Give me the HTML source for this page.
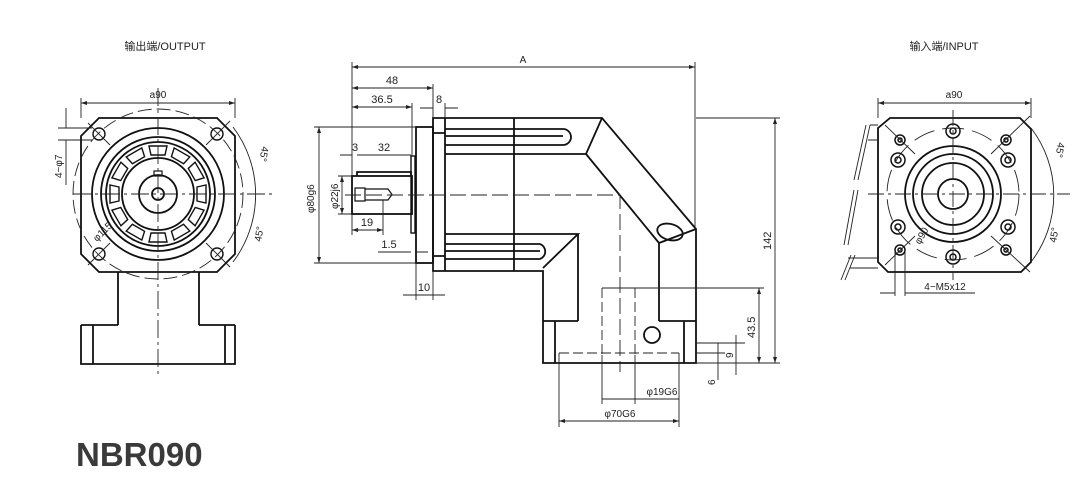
<!DOCTYPE html>
<html><head><meta charset="utf-8"><style>
html,body{margin:0;padding:0;background:#fff}
svg{display:block}
text{font-family:"Liberation Sans","Noto Sans CJK SC",sans-serif;fill:#222}
</style></head><body>
<svg width="1086" height="485" viewBox="0 0 1086 485" xmlns="http://www.w3.org/2000/svg">
<defs>
<marker id="ar" markerWidth="6" markerHeight="6" refX="6" refY="3" orient="auto-start-reverse" markerUnits="userSpaceOnUse"><path d="M0,1 L6,3 L0,5z" fill="#222"/></marker>
</defs>
<g fill="none" stroke="#111" stroke-width="1.8">
<!-- LEFT VIEW -->
<path d="M99,118 L217,118 L235,136 L235,254 L217,272 L99,272 L81,254 L81,136 Z"/>
<circle cx="158" cy="194" r="66"/>
<circle cx="158" cy="194" r="57"/>
<circle cx="158" cy="194" r="52"/>
<circle cx="158" cy="194" r="36"/>
<circle cx="158" cy="194" r="19"/>
<circle cx="158" cy="194" r="6"/>
<rect x="154" y="171" width="8" height="5" stroke-width="1.2"/>
<g stroke-width="1.4">
<circle cx="99" cy="134" r="6"/><circle cx="217" cy="134" r="6"/>
<circle cx="99" cy="254" r="6"/><circle cx="217" cy="254" r="6"/>
</g>
<path d="M118,272 V325 M199,272 V325 M81,325 H118 M199,325 H235 M81,325 V364 H235 V325 M93,325 V364 M225,325 V364"/>
</g>
<g fill="none" stroke="#111" stroke-width="1.4">
<g transform="translate(158,194)">
<path id="pk" d="M-9,-48 L9,-48 L7,-39 L-7,-39 Z"/>
<use href="#pk" transform="rotate(30)"/>
<use href="#pk" transform="rotate(60)"/>
<use href="#pk" transform="rotate(90)"/>
<use href="#pk" transform="rotate(120)"/>
<use href="#pk" transform="rotate(150)"/>
<use href="#pk" transform="rotate(180)"/>
<use href="#pk" transform="rotate(210)"/>
<use href="#pk" transform="rotate(240)"/>
<use href="#pk" transform="rotate(270)"/>
<use href="#pk" transform="rotate(300)"/>
<use href="#pk" transform="rotate(330)"/>
</g>
</g>
<g fill="none" stroke="#222" stroke-width="0.9">
<circle cx="158" cy="194" r="85" stroke-dasharray="14,5"/>
<path d="M158,88 V376 M73,194 H273" stroke-dasharray="18,4,3,4"/>
<path d="M88,123 L110,145 M206,145 L230,121 M88,265 L110,243 M206,243 L230,267"/>
<path d="M81,98 V118 M235,98 V118"/>
<path d="M81,103 H235" marker-start="url(#ar)" marker-end="url(#ar)"/>
<path d="M58,128 H92 M58,140 H92 M66,108 V128 M66,140 V185"/>
<path d="M233,127 A112,112 0 0 1 233,262"/>
</g>
<text x="158" y="98" font-size="10" text-anchor="middle">a90</text>
<text x="0" y="0" font-size="10" transform="translate(62,178) rotate(-90)">4−φ7</text>
<text x="0" y="0" font-size="10" transform="translate(97,242) rotate(-45)">φ115</text>
<text x="0" y="0" font-size="10" transform="translate(262,146) rotate(100)">45°</text>
<text x="0" y="0" font-size="10" transform="translate(261,242) rotate(-80)">45°</text>
<text x="165" y="50" font-size="11" text-anchor="middle" font-family="Liberation Mono,'Noto Sans CJK SC',monospace">输出端/OUTPUT</text>

<!-- MIDDLE VIEW -->
<g fill="none" stroke="#111" stroke-width="1.8">
<rect x="416" y="127" width="17" height="136"/>
<path d="M433,118 H602 L696,229 V363 H543 V271 H433 Z"/>
<path d="M445,118 V271 M433,133 H445 M433,256 H445"/>
<path d="M445,154 H586 L602,118 M586,154 L659,243 L696,229 M659,243 V321"/>
<path d="M445,129 H563 M445,136 H563 M445,145 H563"/>
<path d="M563,129 A8,8 0 0 1 563,145" />
<path d="M445,234 H578 L543,268 M578,234 V321 M543,321 H578 M659,321 H696 M555,321 V363 M684,321 V363"/>
<path d="M445,244 H540 M445,251 H540 M445,259 H540 M540,244 A8,8 0 0 1 540,259"/>
<path d="M514,118 V271"/>
<ellipse cx="670" cy="232" rx="13" ry="8" transform="rotate(15 670 232)"/>
<circle cx="652" cy="335" r="8"/>
<rect x="352" y="176" width="60" height="38"/>
<path d="M357,176 V172 H411 V176"/>
<rect x="411" y="156" width="4" height="77" stroke-width="1.4"/>
<path d="M355,188 H365 V201 H355 Z M365,189 H388 L392,194.5 L388,200 H365" stroke-width="1.2"/>
</g>
<g fill="none" stroke="#222" stroke-width="0.9">
<path d="M345,195 H620 V372" stroke-dasharray="16,5"/>
<path d="M602,288 V355 M635,288 V355 M559,353 H679" stroke-dasharray="10,4"/>
<path d="M602,288 H764 M696,363 H780 M696,118 H780"/>
<path d="M352,62 V176 M695,62 V229 M433,84 V118 M412,103 V156 M445,103 V118"/>
<path d="M352,67 H695" marker-start="url(#ar)" marker-end="url(#ar)"/>
<path d="M352,88 H433" marker-start="url(#ar)" marker-end="url(#ar)"/>
<path d="M352,107 H412" marker-start="url(#ar)" marker-end="url(#ar)"/>
<path d="M420,108 H433 M445,108 H458" />
<path d="M340,155 H352 M357,155 H411" />
<path d="M314,127 H416 M314,263 H416"/>
<path d="M319,127 V263" marker-start="url(#ar)" marker-end="url(#ar)"/>
<path d="M338,176 H352 M338,214 H352"/>
<path d="M342,176 V214" marker-start="url(#ar)" marker-end="url(#ar)"/>
<path d="M352,214 V235 M383,200 V235"/>
<path d="M352,230 H383" marker-start="url(#ar)" marker-end="url(#ar)"/>
<path d="M378,252 H411 M415,252 H428"/>
<path d="M416,263 V300 M433,263 V300 M403,295 H445"/>
<path d="M775,118 V363" marker-start="url(#ar)" marker-end="url(#ar)"/>
<path d="M759,288 V363" marker-start="url(#ar)" marker-end="url(#ar)"/>
<path d="M696,343 H745 M696,353 H725 M736,335 V375 M718,343 V380"/>
<path d="M602,355 V404 M635,355 V404 M559,353 V427 M679,353 V427"/>
<path d="M602,399 H679"/>
<path d="M559,421 H679" marker-start="url(#ar)" marker-end="url(#ar)"/>
</g>
<g font-size="10">
<text x="523" y="63" text-anchor="middle">A</text>
<text x="392" y="84" text-anchor="middle" font-size="11">48</text>
<text x="382" y="103" text-anchor="middle" font-size="11">36.5</text>
<text x="439" y="103" text-anchor="middle" font-size="11">8</text>
<text x="355" y="151" text-anchor="middle" font-size="11">3</text>
<text x="384" y="151" text-anchor="middle" font-size="11">32</text>
<text x="367" y="226" text-anchor="middle" font-size="11">19</text>
<text x="389" y="248" text-anchor="middle" font-size="11">1.5</text>
<text x="424" y="291" text-anchor="middle" font-size="11">10</text>
<text transform="translate(314,213) rotate(-90)">φ80g6</text>
<text transform="translate(338,209) rotate(-90)">φ22j6</text>
<text transform="translate(771,250) rotate(-90)" font-size="11">142</text>
<text transform="translate(755,338) rotate(-90)" font-size="11">43.5</text>
<text transform="translate(733,358) rotate(-90)">9</text>
<text transform="translate(715,385) rotate(-90)">6</text>
<text x="662" y="395" text-anchor="middle">φ19G6</text>
<text x="620" y="417" text-anchor="middle">φ70G6</text>
</g>

<!-- RIGHT VIEW -->
<g fill="none" stroke="#111" stroke-width="1.8">
<path d="M890,118 L1020,118 L1031,129 L1031,262 L1021,272 L888,272 L878,262 L878,128 Z"/>
<circle cx="953" cy="194" r="48"/>
<circle cx="953" cy="194" r="40"/>
<circle cx="953" cy="194" r="31"/>
<circle cx="953" cy="194" r="15"/>
<g stroke-width="1.5">
<circle cx="953" cy="131" r="7"/><circle cx="953" cy="131" r="3"/>
<circle cx="953" cy="257" r="7"/><circle cx="953" cy="257" r="3"/>
<circle cx="898" cy="160" r="7"/><circle cx="898" cy="160" r="3"/>
<circle cx="1008" cy="160" r="7"/><circle cx="1008" cy="160" r="3"/>
<circle cx="898" cy="227" r="7"/><circle cx="898" cy="227" r="3"/>
<circle cx="1008" cy="227" r="7"/><circle cx="1008" cy="227" r="3"/>
<circle cx="900" cy="140" r="5"/><circle cx="900" cy="140" r="2"/>
<circle cx="1006" cy="140" r="5"/><circle cx="1006" cy="140" r="2"/>
<circle cx="900" cy="250" r="5"/><circle cx="900" cy="250" r="2"/>
<circle cx="1006" cy="250" r="5"/><circle cx="1006" cy="250" r="2"/>
</g>
</g>
<g fill="none" stroke="#222" stroke-width="0.9">
<circle cx="953" cy="194" r="66" stroke-dasharray="22,8"/>
<path d="M953,110 V280 M868,194 H1070" stroke-dasharray="16,4,3,4"/>
<path d="M885,125 L915,154 M991,154 L1030,116 M885,265 L915,236 M991,236 L1030,272"/>
<path d="M878,98 V118 M1031,98 V118"/>
<path d="M878,103 H1031" marker-start="url(#ar)" marker-end="url(#ar)"/>
<path d="M1031,128 A110,110 0 0 1 1031,262"/>
<path d="M895,250 V296 M905,250 V296 M880,293 H895 M905,293 H975"/>
<path d="M870,125 L858,180 M866,125 L854,180 M858,190 L848,245 M854,190 L844,245 M855,255 L845,280 M851,255 L841,280"/>
<path d="M870,125 H878 M868,140 H878 M848,258 H878 M850,268 H878"/>
</g>
<g font-size="10">
<text x="954" y="98" text-anchor="middle">a90</text>
<text x="945" y="290" text-anchor="middle">4−M5x12</text>
<text transform="translate(920,245) rotate(-60)">φ90</text>
<text transform="translate(1058,142) rotate(100)">45°</text>
<text transform="translate(1056,243) rotate(-80)">45°</text>
</g>
<text x="944" y="50" font-size="11" text-anchor="middle" font-family="Liberation Mono,'Noto Sans CJK SC',monospace">输入端/INPUT</text>

<text x="76" y="466" font-size="33" font-weight="bold" style="fill:#3a3a3a">NBR090</text>
</svg>
</body></html>
